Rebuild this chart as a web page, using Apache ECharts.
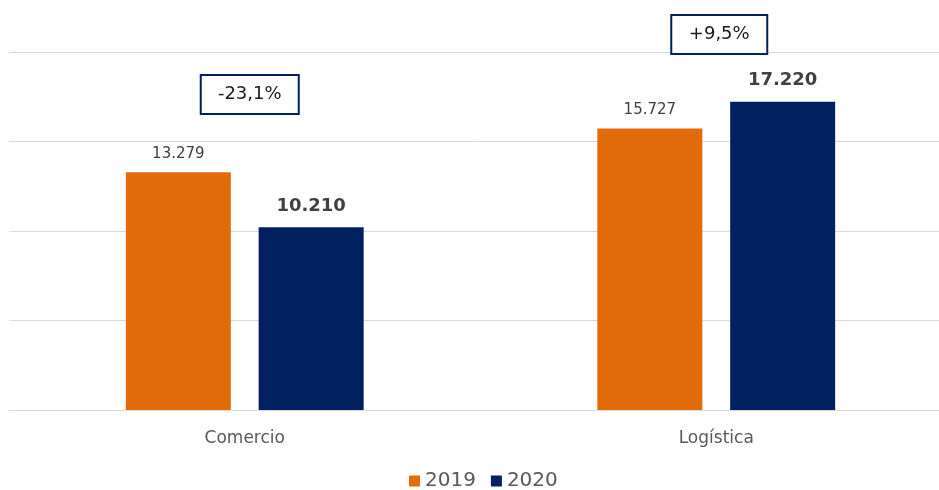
<!DOCTYPE html>
<html>
<head>
<meta charset="utf-8">
<script src="https://cdn.jsdelivr.net/npm/echarts@6/dist/echarts.min.js"></script>
<style>
  html, body { margin: 0; padding: 0; background: #fff; }
  #main { width: 939px; height: 490px; }
</style>
</head>
<body>
<div id="main"></div>
<script>
// datos
const categories = ['Comercio', 'Logística'];
const years = ['2019', '2020'];
const values2019 = [13279, 15727];
const values2020 = [10210, 17220];
const yTicks = [0, 5000, 10000, 15000, 20000];

const FONT = 'DejaVu Sans';
const ORANGE = '#E36C0A';
const NAVY = '#002060';

// 13279 -> "13.279"
const fmtNum = (v) => String(v).replace(/\B(?=(\d{3})+(?!\d))/g, '.');

// variación 2019 -> 2020, "-23,1%"
const fmtPct = (a, b) => {
  const p = ((b - a) / a) * 100;
  return (p > 0 ? '+' : '') + p.toFixed(1).replace('.', ',') + '%';
};

const chart = echarts.init(document.getElementById('main'));

const option = {
  animation: false,
  textStyle: { fontFamily: FONT },
  grid: { left: 9, top: 52, width: 943, height: 358, outerBoundsMode: 'none' },
  legend: {
    data: years,
    left: 409,
    top: 471,
    padding: 0,
    icon: 'rect',
    itemWidth: 11,
    itemHeight: 11,
    itemGap: 15,
    textStyle: { fontFamily: FONT, fontSize: 20, color: '#595959' },
  },
  xAxis: {
    type: 'category',
    data: categories,
    axisLine: { lineStyle: { color: '#d9d9d9', width: 1 } },
    axisTick: { show: false },
    axisLabel: { fontFamily: FONT, fontSize: 17, color: '#595959', margin: 20 },
  },
  yAxis: {
    type: 'value',
    min: yTicks[0],
    max: yTicks[yTicks.length - 1],
    interval: yTicks[1] - yTicks[0],
    axisLabel: { show: false },
    axisLine: { show: false },
    axisTick: { show: false },
    splitLine: { lineStyle: { color: '#d9d9d9', width: 1 } },
  },
  series: [
    {
      name: years[0],
      type: 'bar',
      data: values2019,
      barWidth: 105,
      barGap: '26.5%',
      itemStyle: { color: ORANGE },
      label: {
        show: true,
        position: 'top',
        distance: 11,
        fontFamily: FONT,
        fontSize: 15,
        color: '#404040',
        formatter: (p) => fmtNum(p.value),
      },
    },
    {
      name: years[1],
      type: 'bar',
      data: values2020,
      barWidth: 105,
      barGap: '26.5%',
      itemStyle: { color: NAVY },
      label: {
        show: true,
        position: 'top',
        distance: 12,
        fontFamily: FONT,
        fontSize: 18,
        fontWeight: 'bold',
        color: '#404040',
        formatter: (p) => fmtNum(p.value),
      },
    },
  ],
};

chart.setOption(option);

// cajas de variación, ancladas al centro de cada categoría
const boxLayout = [
  { dx: 4, top: 74, w: 98 },
  { dx: 2, top: 14, w: 96 },
];
const boxes = categories.map((c, i) => {
  const cx = chart.convertToPixel({ xAxisIndex: 0 }, c) + boxLayout[i].dx;
  const w = boxLayout[i].w;
  const h = 39;
  return {
    type: 'group',
    left: cx - w / 2,
    top: boxLayout[i].top,
    children: [
      {
        type: 'rect',
        shape: { x: 0, y: 0, width: w, height: h },
        style: { fill: '#fff', stroke: NAVY, lineWidth: 2 },
      },
      {
        type: 'text',
        x: w / 2,
        y: h / 2,
        style: {
          text: fmtPct(values2019[i], values2020[i]),
          font: '18px "DejaVu Sans"',
          fill: '#1a1a1a',
          align: 'center',
          verticalAlign: 'middle',
        },
      },
    ],
  };
});
chart.setOption({ graphic: boxes });
</script>
</body>
</html>
